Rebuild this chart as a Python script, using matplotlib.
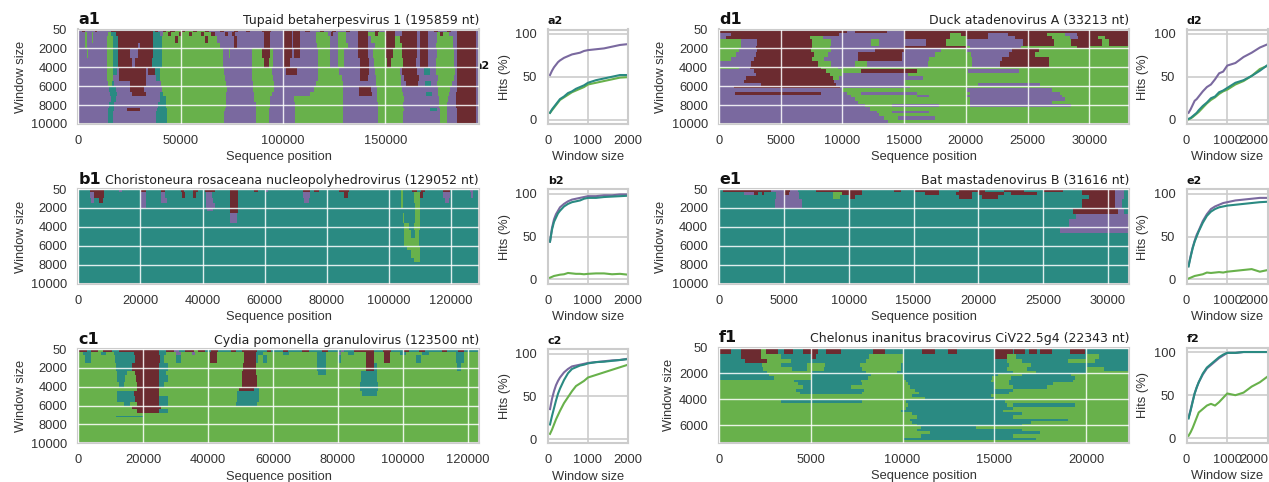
import matplotlib
matplotlib.use('Agg')
import matplotlib.pyplot as plt
from matplotlib.colors import ListedColormap

plt.rcParams['font.family'] = ['Liberation Sans', 'DejaVu Sans']

# Map rows: each token is a category letter and the position where its run ends
a1_length = 195859
a1_windows = [300, 700, 1450, 2000, 3050, 4100, 4800, 5500, 6050, 6600, 7100, 7650, 8300, 8650, 10000]
a1_rows = [
    "P2000 M3000 P8000 M9000 P16000 M36700 T37500 M39000 P41500 M43000 G45000 M47000 G50000 M52000 G56000 M58000 G62000 M64000 P69000 M71000 P76000 M78000 P82000 M84000 P90000 M94000 P100500 M104300 P105000 M108300 P111000 M113000 P118000 M120000 P124000 M126000 P131000 M133000 P136900 M141800 P145000 M147000 P150400 M154800 P158000 M165400 P167000 M171100 P174000 M176000 P180000 M182000 P184900 M194500 P195859",
    "P3300 G4000 P6500 G7300 P14500 G16000 T18500 M36700 T40000 P41500 G44000 M45500 G49000 M50500 G54000 M55500 G60000 M61500 G65000 M67000 P71500 M73000 P75000 M76500 P90500 M93700 P100500 M104300 P105000 M108300 P116000 G122000 P123500 M124500 P127000 G131000 P136900 M141500 G145000 M146500 G150000 M154800 P158000 M165400 P167000 M171100 P175200 G177000 M178500 G181000 P184900 M194500 P195859",
    "P3300 G4000 P6500 G7300 P13900 G16800 T19400 M36700 T40700 G47000 M48500 G62000 M63500 G68000 P76000 M77500 P90500 M93700 P100500 M104300 P105000 M108300 P116000 G123000 P127000 G131000 P136900 M141800 P143000 G150400 M154800 G157000 M165400 P167000 M171100 P175200 G183000 P184900 M194500 P195859",
    "P3300 G4000 P13900 G17000 T19600 M29000 P30000 M36700 T40700 G69300 P76000 M77500 P90500 M93700 P100500 M104300 P105000 M108300 P116500 G123000 P127000 G132000 P136900 M141800 P145000 G150400 M154800 G158000 M165400 P167000 M171100 P175000 G183000 P184900 M194500 P195859",
    "P4000 G4500 P13900 G17100 T19600 M25000 P29000 M36700 T41000 G70500 P73400 G74200 P84800 G90000 M93700 G95000 P100500 M104300 P105500 M108300 P117300 G123000 P127000 G130000 P136900 M141800 P144000 G150400 M154000 G158000 M165400 P167000 M171100 P175200 G183500 P184900 M194500 P195859",
    "P13900 G17000 T19600 M26000 P27500 M36000 T41000 G70800 P84800 G90500 M93000 G95200 P100500 M103500 P117000 G123000 P127000 G130000 P137500 M142000 P144500 G151000 M153000 G158500 M165000 P167000 M171100 P174700 G183800 P184900 M194500 P195859",
    "P13900 G16800 T18800 P20000 M33000 P34000 M37500 T40000 G71000 P85000 G94500 P101500 M106700 P117000 G127500 P137500 M142000 P145000 G157000 P158000 M165500 P169000 T172000 P175000 G184000 P185000 M194500 P195859",
    "P14000 G17000 P20000 M33000 P38000 T40000 G71500 P85000 G95000 P117000 G129000 P137500 M141800 P145500 G157500 P159000 M166500 P176000 G183500 P184900 M194300 P195859",
    "P14500 G16500 T17500 P25000 M33000 P40500 G72000 P85500 G95500 P116000 G129500 P145500 G157500 P160000 M165800 P169500 T172500 P175500 G182500 P184900 M194300 P195859",
    "P15000 T18500 P25000 M32000 P41000 G72500 P85500 G95400 P115000 G129500 P137000 M143000 P145800 G158000 P176000 G181500 P184900 M194300 P195859",
    "P15500 T19000 P26000 M33000 P40000 T41500 G72000 P86000 G94500 P113000 G129500 P137000 M143500 P146000 G158500 P170000 T173000 P176000 G181000 P184700 M194300 P195859",
    "P16000 T18500 P40000 T43000 G72000 P86000 G93500 P105500 G129500 P146000 G159000 P176500 G180500 P184500 M194300 P195859",
    "P15000 T17500 P39000 T43000 G72000 P87000 G93500 P105800 G129500 P146500 G158500 P176500 G180000 P184700 M194300 P195859",
    "P14500 T17500 P24000 M30000 P38500 T43500 G71500 P87000 G93000 P106000 G129500 P146500 G159000 P172000 T175500 P177000 G180000 P184900 M194300 P195859",
    "P14500 T17000 P38000 T43500 G71000 P87000 G93000 P106000 G129500 P146500 G158500 P177000 G180000 P184900 M194300 P195859",
]

b1_length = 129052
b1_windows = [300, 1000, 1500, 2000, 2300, 2500, 3600, 4300, 5200, 6000, 6500, 7300, 7700, 10000]
b1_rows = [
    "T3700 M8300 T13000 P14000 T20100 M21700 T26700 M28000 T33000 M34000 T37000 M38500 T40800 M44000 T48700 M51400 T56500 M57800 T60000 P61000 T72200 M74500 T76000 M77500 T84000 M87300 T104000 G104600 T107500 M109000 T110500 M111500 T117600 M119600 T126000 P127000 T129052",
    "T3700 P5000 M8300 T20100 P21700 T26700 P28000 T33500 M34500 T37000 M38000 T41000 P43000 T48700 M51400 T72200 P74500 T85500 M87000 T104000 G104600 T108000 G110000 M111000 T117600 P119600 T126500 P127000 T129052",
    "T4000 P5000 T6500 M8000 T20100 P21700 T26700 P28400 T41000 P43500 T48700 M51400 T72700 P74200 T104000 G104600 T108000 G110000 T118000 P119300 T129052",
    "T20100 P21700 T41000 P44000 T48700 M51400 T104000 G104600 T108400 G110000 T129052",
    "T41500 P43500 T48700 M51400 T108400 G110000 T129052",
    "T48700 M51400 T108400 G110000 T129052",
    "T48900 P51000 T104500 G105000 T108500 G110000 T129052",
    "T105000 G106500 T108000 G110000 T129052",
    "T105000 G107000 T108500 G109800 T129052",
    "T105000 G109800 T129052",
    "T106000 G110000 T129052",
    "T107000 G110000 T129052",
    "T108000 G110000 T129052",
    "T129052",
]

c1_length = 123500
c1_windows = [300, 650, 1500, 2300, 2800, 3500, 4100, 4500, 5000, 5600, 6100, 6400, 6800, 7100, 7250, 10000]
c1_rows = [
    "M2500 T4000 M6000 G7500 M10500 T12500 M25000 T27000 M29500 P31000 T33000 M35500 G37000 M39000 T41000 M43000 T47000 M48500 T50500 M55000 T58000 M59500 T63000 M64500 T69000 M71000 T75000 M77000 T81000 P82000 T85000 M91000 T94000 M96500 T100000 M102000 T105000 M107000 T112000 M113500 T117000 M119000 T123500",
    "G1500 T4000 G7000 T8500 G11000 T17000 M25000 T27000 G30000 P31500 G35000 P36000 G40700 M42600 G51000 M54600 T57000 G63000 T65000 G73500 T76400 G80000 P81000 G83000 T85000 G88600 M91100 G94300 M96100 G99000 T101000 G106000 T108000 G116500 T119000 G123500",
    "G2000 T4000 G11200 T17500 M25200 T26500 G30000 T31500 G40700 M42600 G51000 M54600 T55500 G57000 T58000 G73500 T76400 G80000 T81000 G88600 M91100 G94300 M96100 G104000 T105500 G116500 T118800 G123500",
    "G11500 T16500 M25000 T27500 G50800 M54600 G73500 T76400 G88600 M91000 T92000 G116800 T118000 G123500",
    "G12000 T15000 G17500 M25000 T27000 G50500 M54800 G73800 T76400 G87000 T92000 G123500",
    "G12000 T14500 G17800 M25000 T27500 G50500 M55000 G87000 T92200 G123500",
    "G12500 T14000 G18000 M24800 T26500 G50500 M55200 G86700 T92500 G123500",
    "G18000 M24800 G49500 M54000 T55600 G86800 T92500 G123500",
    "G12000 T17000 M24800 G49000 T55600 G87500 T92000 G123500",
    "G12000 T17500 M24800 T27500 G48900 T55600 G123500",
    "G14000 T16000 G18000 M25000 T27500 G48500 T55000 G123500",
    "G16500 M25500 G123500",
    "G18000 M25000 T27500 G123500",
    "G123500",
    "G11500 T20000 G123500",
    "G123500",
]

d1_length = 33213
d1_windows = [400, 750, 1100, 1800, 2000, 2400, 2950, 3400, 3950, 4250, 4600, 4980, 5340, 5700, 5950, 6230, 6600, 6900, 7200, 7550, 7850, 8250, 8600, 8850, 9200, 9550, 9900, 10000]
d1_rows = [
    "M10400 P11000 M13600 P15000 M33213",
    "P1000 M9700 P15000 M18700 G19600 M21800 P23400 M26600 G28000 P29000 M33213",
    "P600 M7400 G8400 P15000 M18700 G20000 M21800 P24000 M27000 G28400 P29100 M30700 G31300 M33213",
    "G1760 P3100 M7500 G9100 P12300 G13000 P16800 M18400 G20000 P24600 M27100 G28500 M31000 G31600 M33213",
    "G1800 P3000 M7500 G9000 P15000 M20000 G20300 P24500 G29000 M30000 G33213",
    "G1650 P3100 M7450 G9100 P12600 M15000 P18000 G20000 P23700 M25900 G33213",
    "G1350 P3000 M7700 G8800 P11250 M14800 P17500 G20400 P23500 M25600 G33213",
    "G950 P2850 M7500 G8500 P11250 M14800 P17000 G20500 P22900 M26700 G33213",
    "P2600 M8000 G9100 P11000 G12000 P16900 G20500 P22800 M26700 G33213",
    "G1600 P2500 M8300 G9600 P10000 G33213",
    "P2800 M8700 G11500 M16000 G20200 P24300 G33213",
    "P3000 M9000 G10000 P15300 G33213",
    "P2200 M9200 G9700 P16500 G33213",
    "P2000 M9300 P15000 G33213",
    "P3400 M9500 P15000 G21000 P26000 G33213",
    "P1200 M9800 P15500 G33213",
    "P10000 G20000 P27000 G33213",
    "P1300 M8300 P10400 G11500 P16000 G20300 P27600 G33213",
    "P10700 G16000 P17000 G20000 P27800 G33213",
    "P11000 G20300 P28000 G33213",
    "P11300 G20300 P27000 G33213",
    "P11800 G14000 P17800 G20300 P28500 G33213",
    "P12200 G33213",
    "P12800 G14000 P17000 G33213",
    "P13000 G33213",
    "P13400 G14500 P17500 G33213",
    "P13700 G33213",
    "P12000 G18000 P33213",
]

e1_length = 31616
e1_windows = [300, 700, 1100, 2000, 2700, 3200, 4000, 4700, 10000]
e1_rows = [
    "T300 M4000 P5100 M5500 P6100 T7500 M11000 T13500 M14000 T15000 M17000 T18500 M20500 T22000 M23500 T25000 M26500 T28000 M30500 P31200 T31616",
    "T1900 P2700 M3000 T3300 M3500 T4400 P5000 M5400 P6200 T8800 G9500 M11000 T15900 M17000 T18300 M19500 T20000 M22000 T22500 M24500 T28000 M30500 P31200 T31616",
    "T4400 P6200 T8800 G9300 T10000 M10500 T18500 M19500 T20300 M21500 T28500 M30500 P31200 T31616",
    "T4300 P6400 T28000 M30500 P31100 T31616",
    "T27300 M30800 P31200 T31616",
    "T27500 P31616",
    "T27000 P31616",
    "T26300 P31616",
    "T31616",
]

f1_length = 22343
f1_windows = [180, 570, 950, 1220, 1530, 1860, 2040, 2250, 2510, 2720, 2950, 3230, 3420, 3600, 3810, 4070, 4330, 4590, 4800, 4980, 5240, 5500, 5680, 5880, 6090, 6300, 6450, 6710, 6970, 7170, 7340]
f1_rows = [
    "M22343",
    "M650 T1190 M2280 G2550 M3190 T3560 M4010 T4560 M5380 T5840 M6660 T8390 M9030 T11040 M11760 T12500 M12950 T15050 M16000 T16100 M16690 T16870 M17330 T17510 M18150 T19150 M19970 T22343",
    "T1190 M2300 G3400 T5000 M5300 T8200 G10000 T15050 M15700 G16200 T20000 G20700 T22343",
    "T1400 M2600 G3900 T8000 G10000 T15700 G16500 T19000 G20500 T22343",
    "T2350 G3400 T4800 G5800 T7700 G9900 T15800 G17000 T22343",
    "T2400 G4000 T4800 G5700 T7800 G9900 T15700 G16800 T20000 G21000 T22343",
    "T2600 G5000 T8000 G9700 T16000 G17300 T20000 G22343",
    "T2700 G5000 T8300 G10000 T15200 G16500 T19200 G22343",
    "T3000 G5000 T8100 G10100 T14900 G15900 T19400 G22343",
    "G4100 T7750 G10200 T14800 G15800 T19300 G22343",
    "G4300 T7800 G10300 T15000 G15800 T18200 G22343",
    "G4600 T7200 G10400 T15000 G16000 T17900 G22343",
    "G4200 T7900 G10700 T16000 G22343",
    "G4400 T7800 G10900 T15800 G22343",
    "G10500 T14800 G22343",
    "G11200 T15000 G22343",
    "G3400 T7800 G10200 T15600 G22343",
    "G10300 T15700 G16000 T19400 G22343",
    "G10200 T16000 G22343",
    "G9900 T15500 G22343",
    "G10500 T16500 G22343",
    "G10800 T16000 G22343",
    "G10400 T19000 G22343",
    "G10500 T17000 G22343",
    "G10800 T16500 G22343",
    "G11000 T14000 G22343",
    "G10800 T16500 G22343",
    "G11500 T17500 G22343",
    "G11000 T16000 G22343",
    "G10100 T17300 G22343",
    "G22343",
]

# Hits curves
hit_windows = [50, 100, 150, 200, 250, 300, 400, 500, 600, 700, 800, 900, 1000, 1200, 1400, 1600, 1800, 2000]
a2_purple = [52, 57, 61, 64, 67, 69, 72, 74, 76, 77, 78, 80, 81, 82, 83, 85, 87, 88]
a2_teal = [8, 12, 15, 18, 21, 24, 27, 31, 33, 36, 38, 40, 43, 46, 48, 50, 52, 52]
a2_green = [8, 11, 14, 17, 20, 23, 26, 29, 32, 34, 36, 38, 41, 43, 45, 47, 49, 49.5]
b2_purple = [44, 60, 70, 76, 80, 84, 88, 91, 93, 94, 95, 96, 97, 97, 98, 98, 99, 99]
b2_teal = [44, 58, 67, 72, 77, 80, 85, 88, 90, 91, 92, 94, 95, 95, 96, 96.5, 97, 97.5]
b2_green = [2, 3, 4, 4.5, 5, 5.5, 6, 7.5, 7, 6.5, 6.5, 6, 6.5, 7, 7, 6, 6.5, 5.5]
c2_purple = [35, 47, 56, 63, 68, 72, 78, 82, 85, 86, 87, 88, 89, 90, 91, 92, 92.5, 94]
c2_teal = [17, 27, 36, 45, 53, 59, 69, 77, 82, 84, 86, 87, 88.5, 90, 90.5, 91.5, 92.5, 93.5]
c2_green = [6, 11, 17, 23, 28, 33, 42, 49, 56, 62, 65, 68, 72, 75, 78, 81, 84, 87]
d2_purple = [8, 12, 17, 22, 24, 27, 33, 38, 41, 47, 54, 56, 63, 66, 73, 78, 84, 88]
d2_teal = [1, 2, 4, 6, 8, 11, 16, 20, 25, 27, 32, 34, 37, 43, 46, 51, 57, 64]
d2_green = [0.5, 1.5, 3, 5, 7, 9, 14, 19, 23, 26, 30, 33, 35, 41, 45, 51, 59, 63]
e2_purple = [16, 27, 37, 45, 52, 57, 68, 76, 82, 85, 87, 89, 90, 92, 93, 94, 95, 95]
e2_teal = [15, 26, 36, 44, 50, 56, 66, 74, 79, 82, 84, 85, 86, 87, 88, 89, 90, 90.5]
e2_green = [1, 2, 3, 4, 4.5, 5, 6, 8, 7.5, 8, 8.5, 8, 9, 10, 11, 12, 9, 11]
f2_purple = [24, 33, 43, 52, 59, 65, 74, 81, 85, 89, 93, 96, 99, 99, 100, 100, 100, 100]
f2_teal = [23, 32, 42, 52, 59, 65, 75, 82, 86, 90, 94, 97, 99, 99, 100, 100, 100, 100]
f2_green = [3, 7, 12, 18, 24, 30, 34, 38, 40, 38, 42, 47, 52, 50, 53, 60, 65, 72]

a_xticks = [0, 50000, 100000, 150000]
bc_xticks = [0, 20000, 40000, 60000, 80000, 100000, 120000]
de_xticks = [0, 5000, 10000, 15000, 20000, 25000, 30000]
f_xticks = [0, 5000, 10000, 15000, 20000]
map_yticks = [50, 2000, 4000, 6000, 8000, 10000]
f_yticks = [50, 2000, 4000, 6000]

purple = '#7a699f'
teal = '#2a8a82'
green = '#68b14b'
maroon = '#6c2b30'
text_color = '#333333'
edge_color = '#cccccc'
category_order = 'MPTG'
map_cmap = ListedColormap([maroon, purple, teal, green])

fig_w, fig_h = 1269, 482
fig = plt.figure(figsize=(fig_w / 100, fig_h / 100), dpi=100)


def add_axes(left, right, top, bottom):
    # pixel box to figure fractions
    return fig.add_axes([left / fig_w, 1 - bottom / fig_h, (right - left) / fig_w, (bottom - top) / fig_h])


def style_axes(ax):
    for spine in ax.spines.values():
        spine.set_color(edge_color)
        spine.set_linewidth(1.5)
    ax.tick_params(length=0, labelsize=9.3, labelcolor=text_color, pad=8)


def draw_map(box, windows, rows, length, xticks, yticks, tag, name):
    ax = add_axes(*box)
    top = 50
    for bottom, row in zip(windows, rows):
        tokens = row.split()
        ends = [int(t[1:]) for t in tokens]
        assert all(a < b for a, b in zip(ends, ends[1:])), row
        codes = [category_order.index(t[0]) for t in tokens]
        ax.pcolormesh([0] + ends, [top, bottom], [codes], cmap=map_cmap, vmin=0, vmax=3)
        top = bottom
    ax.set_xlim(0, length)
    ax.set_ylim(windows[-1], 50)
    ax.set_xticks(xticks)
    ax.set_yticks(yticks)
    ax.grid(True, color='white', linewidth=1, alpha=0.85)
    ax.set_axisbelow(False)
    style_axes(ax)
    ax.set_xlabel('Sequence position', fontsize=9.3, color=text_color, labelpad=3)
    ax.set_ylabel('Window size', fontsize=9.3, color=text_color, labelpad=3)
    ax.set_title(tag, loc='left', family='DejaVu Sans', fontweight='bold', fontsize=11.5, pad=3, color='#111111')
    ax.set_title(name, loc='right', family='DejaVu Sans', fontsize=9, pad=4, color='#222222')
    return ax


def draw_hits(box, purple_hits, teal_hits, green_hits, tag, shift_last=False):
    ax = add_axes(*box)
    ax.plot(hit_windows, purple_hits, color=purple, linewidth=1.5)
    ax.plot(hit_windows, green_hits, color=green, linewidth=1.5)
    ax.plot(hit_windows, teal_hits, color=teal, linewidth=1.5)
    ax.set_xlim(0, 2000)
    ax.set_ylim(-5, 105)
    ax.set_xticks([0, 1000, 2000])
    ax.set_yticks([0, 50, 100])
    ax.grid(True, color=edge_color, linewidth=1.2)
    ax.set_axisbelow(True)
    style_axes(ax)
    ax.set_xlabel('Window size', fontsize=9.3, color=text_color, labelpad=3)
    ax.set_ylabel('Hits (%)', fontsize=9.3, color=text_color, labelpad=3)
    ax.set_title(tag, loc='left', family='DejaVu Sans', fontweight='bold', fontsize=8, pad=4, color='#111111')
    if shift_last:
        # the last label sits inside the right edge of the image
        ax.get_xticklabels()[-1].set_ha('right')
    return ax


left_map = (78.4, 479)
right_map = (719, 1129)
left_hits = (548, 628)
right_hits = (1186.5, 1268)
row_a = (29.5, 124)
row_b = (189.3, 283.7)
row_c = (349.3, 443.3)
row_f = (347.7, 442.7)

draw_map(left_map + row_a, a1_windows, a1_rows, a1_length, a_xticks, map_yticks, 'a1', 'Tupaid betaherpesvirus 1 (195859 nt)')
draw_map(left_map + row_b, b1_windows, b1_rows, b1_length, bc_xticks, map_yticks, 'b1', 'Choristoneura rosaceana nucleopolyhedrovirus (129052 nt)')
draw_map(left_map + row_c, c1_windows, c1_rows, c1_length, bc_xticks, map_yticks, 'c1', 'Cydia pomonella granulovirus (123500 nt)')
draw_map(right_map + row_a, d1_windows, d1_rows, d1_length, de_xticks, map_yticks, 'd1', 'Duck atadenovirus A (33213 nt)')
draw_map(right_map + row_b, e1_windows, e1_rows, e1_length, de_xticks, map_yticks, 'e1', 'Bat mastadenovirus B (31616 nt)')
draw_map(right_map + row_f, f1_windows, f1_rows, f1_length, f_xticks, f_yticks, 'f1', 'Chelonus inanitus bracovirus CiV22.5g4 (22343 nt)')

draw_hits(left_hits + row_a, a2_purple, a2_teal, a2_green, 'a2')
draw_hits(left_hits + row_b, b2_purple, b2_teal, b2_green, 'b2')
draw_hits(left_hits + row_c, c2_purple, c2_teal, c2_green, 'c2')
draw_hits(right_hits + row_a, d2_purple, d2_teal, d2_green, 'd2', shift_last=True)
draw_hits(right_hits + row_b, e2_purple, e2_teal, e2_green, 'e2', shift_last=True)
draw_hits(right_hits + row_f, f2_purple, f2_teal, f2_green, 'f2', shift_last=True)

# stray panel tag tucked behind the right edge of a1
fig.text(490 / fig_w, 1 - 66 / fig_h, 'a2', family='DejaVu Sans', fontweight='bold', fontsize=8,
         ha='right', va='center', color='#111111', zorder=-1)

fig.savefig('out.png', dpi=100)
